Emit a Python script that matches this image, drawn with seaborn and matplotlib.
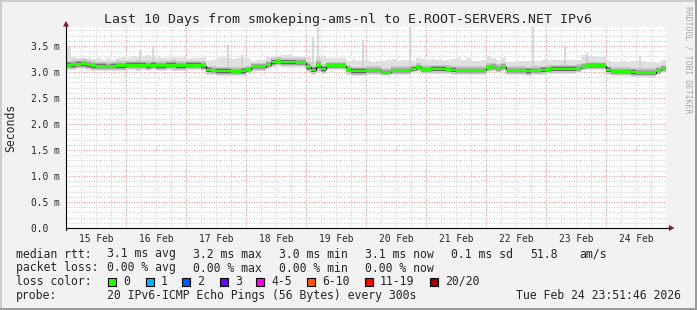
import matplotlib
matplotlib.use("Agg")
import matplotlib.pyplot as plt
import matplotlib.dates as mdates
from matplotlib.ticker import MultipleLocator, FuncFormatter
from matplotlib.patches import Rectangle, Polygon
from matplotlib.lines import Line2D
import numpy as np
import pandas as pd
import seaborn as sns

# ---------------- data ----------------
title = "Last 10 Days from smokeping-ams-nl to E.ROOT-SERVERS.NET IPv6"
start_time = "2026-02-14 23:51:46"
end_time = "2026-02-24 23:51:46"
first_bin = "2026-02-15 00:00"
bin_hours = 2

# median rtt (ms), one value per 2-hour bin
median_ms = [
    3.13, 3.14, 3.15, 3.16, 3.14, 3.12, 3.11, 3.11, 3.11, 3.11, 3.12, 3.12,
    3.13, 3.13, 3.13, 3.13, 3.12, 3.13, 3.12, 3.12, 3.13, 3.13, 3.12, 3.12,
    3.13, 3.13, 3.13, 3.12, 3.04, 3.03, 3.02, 3.02, 3.02, 3.01, 3.01, 3.02,
    3.05, 3.10, 3.10, 3.10, 3.14, 3.19, 3.20, 3.19, 3.19, 3.19, 3.18, 3.18,
    3.10, 3.04, 3.12, 3.06, 3.12, 3.12, 3.12, 3.12, 3.05, 3.02, 3.02, 3.02,
    3.03, 3.03, 3.03, 3.00, 3.00, 3.03, 3.03, 3.03, 3.03, 3.06, 3.09, 3.05,
    3.05, 3.06, 3.06, 3.06, 3.05, 3.04, 3.03, 3.03, 3.03, 3.03, 3.03, 3.03,
    3.09, 3.10, 3.07, 3.10, 3.03, 3.03, 3.03, 3.03, 3.02, 3.03, 3.03, 3.04,
    3.05, 3.06, 3.06, 3.06, 3.06, 3.06, 3.07, 3.11, 3.12, 3.12, 3.12, 3.12,
    3.04, 3.01, 3.01, 3.01, 3.01, 3.00, 2.99, 2.99, 2.99, 2.99, 3.03, 3.07,
]
# highest ping per bin (ms), without the isolated spikes
smoke_high_ms = [
    3.49, 3.28, 3.27, 3.27, 3.26, 3.25, 3.27, 3.24, 3.26, 3.24, 3.26, 3.28,
    3.27, 3.30, 3.28, 3.30, 3.32, 3.28, 3.28, 3.27, 3.26, 3.28, 3.27, 3.28,
    3.25, 3.26, 3.27, 3.28, 3.22, 3.24, 3.26, 3.28, 3.27, 3.25, 3.27, 3.27,
    3.25, 3.22, 3.24, 3.24, 3.28, 3.30, 3.31, 3.32, 3.33, 3.30, 3.30, 3.29,
    3.28, 3.22, 3.28, 3.30, 3.26, 3.27, 3.26, 3.27, 3.22, 3.24, 3.22, 3.22,
    3.22, 3.20, 3.22, 3.21, 3.24, 3.25, 3.22, 3.23, 3.23, 3.22, 3.26, 3.25,
    3.24, 3.25, 3.24, 3.22, 3.23, 3.25, 3.26, 3.24, 3.27, 3.22, 3.22, 3.24,
    3.30, 3.26, 3.24, 3.26, 3.20, 3.20, 3.22, 3.21, 3.22, 3.22, 3.22, 3.23,
    3.22, 3.24, 3.24, 3.24, 3.24, 3.23, 3.24, 3.32, 3.30, 3.30, 3.29, 3.28,
    3.22, 3.20, 3.20, 3.21, 3.20, 3.22, 3.22, 3.22, 3.20, 3.20, 3.18, 3.23,
]
# lowest ping per bin (ms)
smoke_low_ms = [
    3.03, 3.04, 3.05, 3.05, 3.04, 3.02, 3.01, 3.01, 3.02, 3.01, 3.02, 3.02,
    3.03, 3.03, 3.02, 3.03, 3.02, 3.03, 3.02, 3.02, 3.03, 3.02, 3.02, 3.02,
    3.03, 3.03, 3.03, 3.02, 2.95, 2.94, 2.93, 2.93, 2.93, 2.92, 2.92, 2.93,
    2.97, 3.01, 3.01, 3.01, 3.06, 3.10, 3.11, 3.10, 3.10, 3.10, 3.09, 3.09,
    3.00, 2.95, 3.00, 2.96, 3.03, 3.03, 3.03, 3.03, 2.95, 2.93, 2.93, 2.93,
    2.94, 2.94, 2.94, 2.92, 2.92, 2.94, 2.94, 2.94, 2.94, 2.98, 3.00, 2.96,
    2.96, 2.97, 2.97, 2.97, 2.96, 2.95, 2.94, 2.94, 2.94, 2.94, 2.94, 2.94,
    3.00, 3.01, 2.98, 3.01, 2.94, 2.94, 2.94, 2.94, 2.93, 2.94, 2.94, 2.95,
    2.96, 2.97, 2.97, 2.97, 2.97, 2.97, 2.98, 3.03, 3.04, 3.04, 3.04, 3.04,
    2.95, 2.92, 2.92, 2.92, 2.92, 2.91, 2.90, 2.90, 2.90, 2.90, 2.95, 2.99,
]
# isolated single-ping spikes
spike_times = [
    "2026-02-16 05:30", "2026-02-16 10:30", "2026-02-17 16:50", "2026-02-17 22:25",
    "2026-02-19 02:50", "2026-02-19 04:35", "2026-02-19 22:50", "2026-02-20 17:35",
    "2026-02-22 18:50", "2026-02-23 07:35", "2026-02-23 16:25", "2026-02-24 13:35",
]
spike_ms = [3.42, 3.49, 3.52, 3.33, 3.68, 3.87, 3.62, 3.87, 3.87, 3.49, 3.36, 3.30]

ytick_values = [0.0, 0.5, 1.0, 1.5, 2.0, 2.5, 3.0, 3.5]
ytick_labels = ["0.0  ", "0.5 m", "1.0 m", "1.5 m", "2.0 m", "2.5 m", "3.0 m", "3.5 m"]
y_max = 3.865

rtt_label = "median rtt:"
rtt_stats = ["3.1 ms avg", "3.2 ms max", "3.0 ms min", "3.1 ms now", "0.1 ms sd", "51.8", "am/s"]
loss_label = "packet loss:"
loss_stats = ["0.00 % avg", "0.00 % max", "0.00 % min", "0.00 % now"]
color_label = "loss color:"
loss_names = ["0", "1", "2", "3", "4-5", "6-10", "11-19", "20/20"]
loss_colors = ["#26ff00", "#00b8ff", "#0059ff", "#6a00ff", "#ff00f0", "#ff5500", "#ff0000", "#a10000"]
probe_label = "probe:"
probe_text = "20 IPv6-ICMP Echo Pings (56 Bytes) every 300s"
stamp_text = "Tue Feb 24 23:51:46 2026"
ylabel = "Seconds"
watermark = "RRDTOOL / TOBI OETIKER"

# ---------------- style ----------------
W, H = 697, 310
sns.set_style("white")
plt.rcParams["font.family"] = ["DejaVu Sans Mono", "DejaVu Sans"]
BACK = "#F2F2F2"

fig = plt.figure(figsize=(W / 100, H / 100), dpi=100, facecolor=BACK)


def fx(x):
    return x / W


def fy(y):
    return 1 - y / H


ax_left, ax_right, ax_top, ax_bot = 66, 666, 27, 228
ax = fig.add_axes([fx(ax_left), fy(ax_bot), (ax_right - ax_left) / W, (ax_bot - ax_top) / H])
ax.set_facecolor("white")

t = pd.date_range(first_bin, periods=len(median_ms), freq=f"{bin_hours}h")
t_edges = t.append(pd.DatetimeIndex([t[-1] + pd.Timedelta(hours=bin_hours)]))
med = np.array(median_ms + [median_ms[-1]])
lo = np.array(smoke_low_ms + [smoke_low_ms[-1]])
hi = np.array(smoke_high_ms + [smoke_high_ms[-1]])
d = med - lo

# smoke layers (outer light -> inner dark)
ax.fill_between(t_edges, lo, hi, step="post", color="#E0E0E0", lw=0, zorder=2)
st = pd.to_datetime(spike_times)
spike_base = np.interp(mdates.date2num(st), mdates.date2num(t_edges), med)
ax.vlines(st, spike_base, spike_ms, color="#CDCDCD", lw=1.1, zorder=2)
ax.fill_between(t_edges, med - 0.8 * d, med + 0.9 * d, step="post", color="#C6C6C6", lw=0, zorder=2)
ax.fill_between(t_edges, med - 0.55 * d, med + 0.55 * d, step="post", color="#A4A4A4", lw=0, zorder=2)
ax.fill_between(t_edges, med - 0.35 * d, med + 0.35 * d, step="post", color="#6E6E6E", lw=0, zorder=2)

df = pd.DataFrame({"time": t_edges, "median": med})
sns.lineplot(data=df, x="time", y="median", ax=ax, color="#202020", lw=0.9,
             drawstyle="steps-post", zorder=3)
sw = 0.026
ax.fill_between(t_edges, med - sw, med + sw, step="post", color=loss_colors[0], lw=0, zorder=4)

ax.set_xlim(pd.Timestamp(start_time), pd.Timestamp(end_time))
ax.set_ylim(0, y_max)
ax.set_xlabel("")
ax.set_ylabel("")

# grid
ax.xaxis.set_major_locator(mdates.DayLocator())
ax.xaxis.set_major_formatter(FuncFormatter(lambda v, p: ""))
ax.xaxis.set_minor_locator(mdates.HourLocator(byhour=[6, 12, 18]))
ax.xaxis.set_minor_formatter(FuncFormatter(
    lambda v, p: mdates.num2date(v).strftime("%d %b") if mdates.num2date(v).hour == 12 else ""))
ax.set_yticks(ytick_values, ytick_labels)
ax.yaxis.set_minor_locator(MultipleLocator(0.1))

ax.grid(which="minor", color="#D0D0D0", lw=0.72, linestyle=(0, (1, 1.5)))
ax.grid(which="major", color="#F29494", lw=0.72, linestyle=(0, (1, 1.5)))
ax.set_axisbelow(True)

ax.tick_params(which="both", length=0)
ax.tick_params(axis="x", which="minor", labelsize=6.95, pad=4.5)
ax.tick_params(axis="y", which="major", labelsize=6.95, pad=4.6)
for s in ax.spines.values():
    s.set_visible(False)

# axes lines with arrows
fig.add_artist(Line2D([fx(66), fx(669)], [fy(228), fy(228)], color="black", lw=0.8))
fig.add_artist(Line2D([fx(66), fx(66)], [fy(230), fy(26)], color="black", lw=0.8))
fig.add_artist(Polygon([[fx(669), fy(225)], [fx(669), fy(231)], [fx(674.5), fy(228)]],
                       closed=True, color="#7F1F1F", lw=0))
fig.add_artist(Polygon([[fx(63), fy(26.5)], [fx(69), fy(26.5)], [fx(66), fy(21)]],
                       closed=True, color="#7F1F1F", lw=0))

# titles
fig.text(fx(348.5), fy(19), title, ha="center", va="center", fontsize=9.55)
fig.text(fx(11), fy(128), ylabel, ha="center", va="center", rotation=90, fontsize=8.3)
fig.text(fx(688), fy(60), watermark, ha="center", va="center", rotation=270,
         fontsize=5.9, color="#A8A8A8")

# legend block
FS = 8.3
row_y = [254, 268, 281.5, 295.5]
stat_x = [107, 193, 279, 365, 451, 530, 579]
fig.text(fx(16), fy(row_y[0]), rtt_label, va="center", fontsize=FS)
for s, x in zip(rtt_stats, stat_x):
    fig.text(fx(x), fy(row_y[0]), s, va="center", fontsize=FS)
fig.text(fx(16), fy(row_y[1]), loss_label, va="center", fontsize=FS)
for s, x in zip(loss_stats, stat_x):
    fig.text(fx(x), fy(row_y[1]), s, va="center", fontsize=FS)
fig.text(fx(16), fy(row_y[2]), color_label, va="center", fontsize=FS)
box_x = [108, 146, 182, 220, 256, 307, 365, 430]
for name, col, bx in zip(loss_names, loss_colors, box_x):
    fig.add_artist(Rectangle((fx(bx), fy(row_y[2] + 4)), 8 / W, 8 / H,
                             facecolor=col, edgecolor="black", lw=0.8))
    fig.text(fx(bx + 15), fy(row_y[2]), name, va="center", fontsize=FS)
fig.text(fx(16), fy(row_y[3]), probe_label, va="center", fontsize=FS)
fig.text(fx(107), fy(row_y[3]), probe_text, va="center", fontsize=FS)
fig.text(fx(681), fy(row_y[3]), stamp_text, va="center", ha="right", fontsize=FS)

# frame (3D border)
fig.add_artist(Line2D([0, 1], [fy(0.5), fy(0.5)], color="#CBCBCB", lw=1.4))
fig.add_artist(Line2D([fx(0.5), fx(0.5)], [0, 1], color="#CBCBCB", lw=1.4))
fig.add_artist(Line2D([0, 1], [fy(H - 1), fy(H - 1)], color="#999999", lw=1.4))
fig.add_artist(Line2D([fx(W - 1), fx(W - 1)], [0, 1], color="#999999", lw=1.4))

fig.savefig("out.png", dpi=100, facecolor=BACK)
